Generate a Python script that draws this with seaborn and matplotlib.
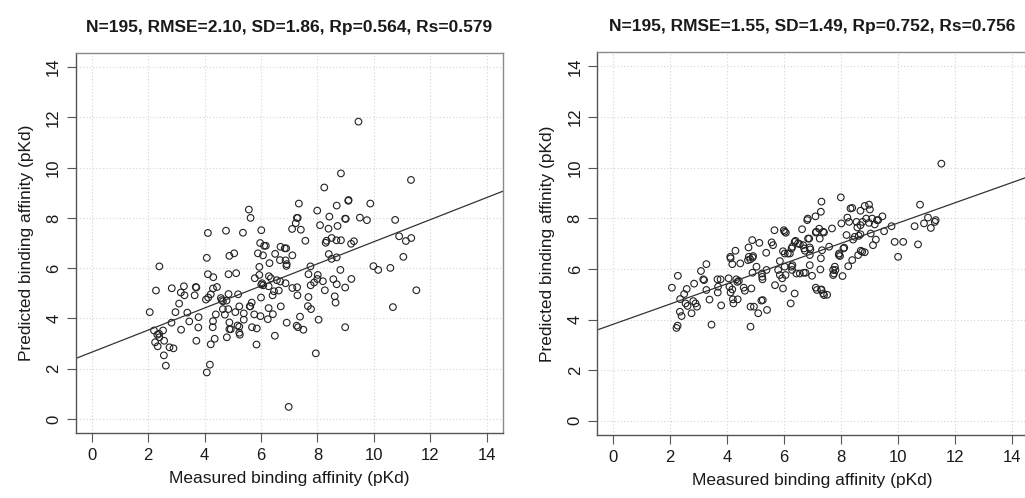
"""Measured vs predicted binding affinity, two scoring models side by side."""

import matplotlib

matplotlib.use("Agg")
import matplotlib.pyplot as plt
import pandas as pd
import seaborn as sns

# left model: measured / predicted pKd
left_measured = [
    9.45, 8.83, 11.31, 8.24, 7.34, 9.87, 9.10, 9.09, 5.57, 5.63,
    7.99, 8.68, 7.27, 7.30, 9.00, 8.98, 9.50, 9.75, 10.75, 8.42,
    7.23, 8.09, 8.71, 4.12, 4.76, 5.36, 6.01, 7.10, 7.41, 8.39,
    7.57, 8.29, 8.32, 8.50, 8.67, 8.83, 9.19, 9.29, 10.89, 11.13,
    11.32, 5.97, 6.11, 6.17, 6.69, 6.84, 6.89, 5.89, 6.07, 6.50,
    7.11, 5.05, 4.88, 4.08, 6.30, 6.67, 6.87, 6.91, 6.90, 8.40,
    8.50, 8.68, 11.04, 2.40, 5.94, 7.75, 9.98, 10.15, 10.58, 8.81,
    4.12, 4.85, 5.12, 4.31, 5.78, 5.94, 6.28, 6.35, 6.56, 6.68,
    6.87, 7.68, 8.01, 7.99, 7.88, 7.76, 8.19, 8.56, 8.68, 9.20,
    6.01, 6.08, 6.27, 6.46, 6.63, 7.11, 7.28, 7.29, 7.68, 8.26,
    8.98, 11.50, 8.61, 8.64, 2.28, 2.84, 3.27, 3.69, 3.71, 3.16,
    3.29, 3.65, 4.05, 4.13, 4.22, 4.30, 4.44, 4.58, 4.65, 4.78,
    4.85, 5.19, 5.67, 5.62, 6.00, 6.41, 6.70, 7.66, 7.77, 3.10,
    2.06, 2.97, 3.39, 3.79, 4.40, 4.65, 4.72, 4.84, 5.09, 5.23,
    5.39, 5.76, 5.98, 6.27, 6.42, 7.38, 8.04, 3.46, 2.83, 4.30,
    4.88, 5.39, 6.24, 6.91, 2.53, 2.21, 3.17, 3.78, 4.29, 4.88,
    4.93, 5.23, 5.68, 5.85, 7.26, 7.31, 7.50, 8.98, 5.23, 5.25,
    2.33, 2.40, 4.79, 4.36, 6.49, 2.25, 2.57, 3.71, 2.34, 2.76,
    2.90, 4.22, 5.84, 7.94, 2.56, 2.63, 4.19, 4.08, 6.98, 10.67,
    2.39, 4.61, 5.17, 5.60, 6.04,
]
left_predicted = [
    11.83, 9.77, 9.51, 9.21, 8.57, 8.57, 8.71, 8.68, 8.33, 8.00,
    8.29, 8.49, 8.00, 8.00, 7.96, 7.97, 8.01, 7.91, 7.92, 8.05,
    7.79, 7.71, 7.68, 7.40, 7.49, 7.41, 7.51, 7.56, 7.53, 7.57,
    7.09, 7.01, 7.09, 7.20, 7.11, 7.11, 6.97, 7.07, 7.27, 7.08,
    7.20, 7.00, 6.89, 6.89, 6.85, 6.79, 6.79, 6.59, 6.51, 6.57,
    6.51, 6.59, 6.49, 6.41, 6.20, 6.32, 6.31, 6.16, 6.09, 6.56,
    6.37, 6.43, 6.45, 6.07, 6.05, 6.07, 6.08, 5.93, 6.01, 5.93,
    5.76, 5.76, 5.80, 5.64, 5.60, 5.73, 5.68, 5.60, 5.52, 5.47,
    5.40, 5.76, 5.73, 5.57, 5.43, 5.32, 5.48, 5.56, 5.36, 5.57,
    5.35, 5.32, 5.28, 5.08, 5.11, 5.21, 5.24, 4.92, 4.85, 5.12,
    5.23, 5.12, 4.88, 4.63, 5.11, 5.20, 5.28, 5.25, 5.23, 5.03,
    4.92, 4.92, 4.75, 4.83, 4.96, 5.19, 5.25, 4.81, 4.68, 4.71,
    4.97, 4.96, 4.63, 4.48, 4.83, 4.92, 4.48, 4.49, 4.37, 4.59,
    4.25, 4.25, 4.23, 4.05, 4.16, 4.37, 4.15, 4.37, 4.25, 4.48,
    4.20, 4.16, 4.09, 4.41, 4.17, 4.07, 3.95, 3.88, 3.83, 3.89,
    3.84, 3.95, 3.97, 3.83, 3.52, 3.52, 3.55, 3.64, 3.65, 3.57,
    3.57, 3.67, 3.65, 3.60, 3.71, 3.65, 3.55, 3.65, 3.43, 3.35,
    3.35, 3.25, 3.25, 3.19, 3.31, 3.05, 3.11, 3.11, 2.89, 2.85,
    2.81, 2.97, 2.96, 2.61, 2.53, 2.12, 2.16, 1.85, 0.48, 4.45,
    3.39, 4.73, 3.72, 4.48, 5.40,
]

# right model: measured / predicted pKd
right_measured = [
    2.06, 2.27, 2.35, 2.22, 2.26, 2.34, 2.40, 2.49, 2.58, 2.54,
    2.61, 2.81, 2.84, 2.94, 2.75, 2.89, 3.08, 3.27, 3.16, 3.19,
    3.27, 3.38, 3.45, 3.79, 3.66, 3.77, 3.68, 3.67, 4.05, 4.08,
    4.12, 4.18, 4.11, 4.12, 4.29, 4.18, 4.20, 4.22, 4.37, 4.32,
    4.36, 4.41, 4.46, 4.58, 4.62, 4.73, 4.76, 4.75, 4.81, 4.88,
    4.91, 4.89, 5.03, 5.13, 5.22, 5.24, 5.23, 5.20, 5.25, 4.82,
    4.94, 4.82, 5.09, 4.89, 4.85, 5.37, 5.40, 5.38, 5.56, 5.61,
    5.66, 5.68, 5.79, 5.85, 5.85, 5.93, 5.96, 6.02, 5.99, 6.02,
    6.06, 6.05, 5.96, 6.02, 6.26, 6.29, 6.37, 6.40, 6.26, 6.28,
    6.43, 6.37, 6.23, 6.13, 6.20, 6.49, 6.55, 6.63, 6.67, 6.70,
    6.73, 6.75, 6.81, 6.83, 6.84, 6.90, 6.92, 6.90, 6.90, 6.98,
    7.10, 7.11, 7.15, 7.23, 7.25, 7.29, 7.31, 7.29, 7.27, 7.33,
    7.40, 7.30, 7.37, 7.40, 7.51, 7.58, 7.68, 7.72, 7.75, 7.78,
    7.80, 7.72, 7.92, 7.93, 7.96, 7.99, 8.01, 8.05, 8.08, 8.19,
    8.22, 8.28, 8.25, 8.33, 8.39, 8.42, 8.39, 8.54, 8.48, 8.57,
    8.60, 8.62, 8.68, 8.68, 8.69, 8.68, 8.74, 8.75, 8.83, 8.83,
    8.88, 8.98, 9.01, 8.98, 9.04, 9.12, 9.09, 9.18, 9.22, 9.30,
    9.45, 9.51, 9.77, 9.88, 10.00, 10.18, 10.58, 10.70, 10.77, 10.91,
    11.05, 11.15, 11.29, 11.32, 11.52, 6.29, 6.69, 6.55, 7.31, 7.11,
    7.13, 7.37, 6.88, 8.11, 9.26,
]
right_predicted = [
    5.26, 5.73, 4.81, 3.67, 3.76, 4.31, 4.14, 5.01, 5.21, 4.64,
    4.54, 4.73, 5.42, 4.51, 4.25, 4.64, 5.92, 6.19, 5.59, 5.56,
    5.17, 4.79, 3.80, 4.56, 5.59, 5.59, 5.30, 5.07, 5.63, 5.30,
    5.07, 5.19, 6.48, 6.42, 6.72, 6.19, 4.80, 4.64, 4.80, 5.59,
    5.49, 5.53, 6.22, 5.26, 5.14, 6.35, 6.48, 6.85, 6.38, 7.14,
    6.51, 6.45, 6.09, 7.03, 5.82, 5.59, 5.69, 4.75, 4.77, 4.51,
    4.51, 3.72, 4.25, 5.85, 5.23, 6.64, 4.38, 5.96, 7.05, 6.94,
    7.53, 5.36, 5.96, 6.31, 5.76, 5.63, 6.70, 6.61, 7.53, 7.47,
    7.43, 5.76, 5.23, 6.09, 6.81, 6.88, 7.07, 7.11, 6.09, 5.96,
    5.82, 5.03, 4.64, 6.61, 6.61, 7.01, 6.98, 7.57, 6.94, 6.81,
    6.72, 5.85, 7.93, 7.99, 7.20, 6.85, 6.77, 6.55, 6.15, 5.73,
    8.08, 7.44, 5.17, 7.59, 7.20, 8.26, 8.66, 6.42, 5.98, 6.74,
    7.44, 5.17, 5.03, 4.97, 4.98, 6.88, 7.60, 5.96, 5.82, 6.09,
    5.96, 5.76, 6.55, 6.61, 6.51, 8.83, 7.80, 5.72, 6.81, 7.34,
    8.03, 7.86, 6.11, 8.39, 8.41, 7.16, 6.35, 7.86, 7.27, 7.64,
    6.55, 7.31, 8.30, 7.37, 6.72, 7.73, 6.68, 7.86, 8.49, 6.66,
    7.99, 8.54, 8.35, 7.82, 7.40, 6.94, 7.99, 7.76, 7.16, 7.93,
    8.08, 7.49, 7.69, 7.07, 6.48, 7.07, 7.69, 6.97, 8.54, 7.80,
    8.03, 7.62, 7.86, 7.93, 10.16, 6.15, 5.85, 5.82, 5.19, 5.26,
    7.47, 7.47, 7.20, 6.84, 7.93,
]

titles = [
    "N=195, RMSE=2.10, SD=1.86, Rp=0.564, Rs=0.579",
    "N=195, RMSE=1.55, SD=1.49, Rp=0.752, Rs=0.756",
]
ticks = [0, 2, 4, 6, 8, 10, 12, 14]
axis_limits = (-0.56, 14.56)


def draw_panel(ax, measured, predicted, title):
    data = pd.DataFrame({"measured": measured, "predicted": predicted})
    ax.set_xlim(axis_limits)
    ax.set_ylim(axis_limits)
    ax.set_xticks(ticks)
    ax.set_yticks(ticks)
    ax.grid(True, linestyle=(0, (1, 2)), color="#d4d4d4", linewidth=0.8)
    ax.set_axisbelow(True)

    sns.scatterplot(
        data=data, x="measured", y="predicted", ax=ax,
        s=23, facecolors="none", edgecolor="#222222", linewidth=0.8,
    )
    sns.regplot(
        data=data, x="measured", y="predicted", ax=ax,
        scatter=False, ci=None, truncate=False,
        line_kws={"color": "#333333", "linewidth": 0.9},
    )
    ax.set_xlim(axis_limits)
    ax.set_ylim(axis_limits)

    for side in ["top", "right"]:
        ax.spines[side].set_color("#8a8a8a")
    for side in ["bottom", "left"]:
        ax.spines[side].set_color("#555555")
    for spine in ax.spines.values():
        spine.set_linewidth(1.0)

    ax.tick_params(
        bottom=True, left=True, direction="out",
        length=6.5, width=0.8, color="#555555", labelsize=12, pad=4,
    )
    plt.setp(ax.get_yticklabels(), rotation=90, va="center")
    ax.set_xlabel("Measured binding affinity (pKd)", fontsize=12.5, labelpad=6)
    ax.set_ylabel("Predicted binding affinity (pKd)", fontsize=12.5, labelpad=9)
    ax.set_title(title, fontsize=12.5, fontweight="bold", pad=15)


sns.set_style("white")
plt.rcParams["font.family"] = ["Liberation Sans", "DejaVu Sans"]
plt.rcParams["text.color"] = "#1a1a1a"
plt.rcParams["axes.labelcolor"] = "#1a1a1a"
plt.rcParams["xtick.color"] = "#1a1a1a"
plt.rcParams["ytick.color"] = "#1a1a1a"

fig = plt.figure(figsize=(10.25, 4.98), dpi=100)
ax_left = fig.add_axes([0.0739, 0.1305, 0.4166, 0.763])
ax_right = fig.add_axes([0.5827, 0.1265, 0.4202, 0.7685])

draw_panel(ax_left, left_measured, left_predicted, titles[0])
draw_panel(ax_right, right_measured, right_predicted, titles[1])

fig.savefig("out.png", dpi=100)
